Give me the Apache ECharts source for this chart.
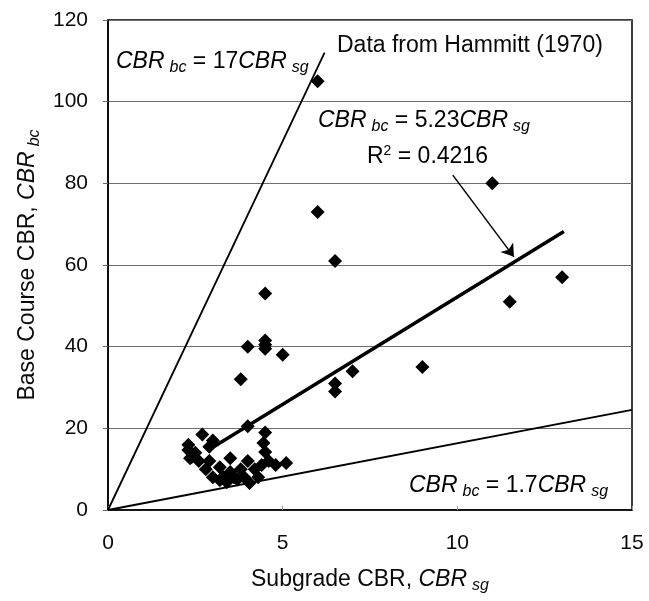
<!DOCTYPE html>
<html>
<head>
<meta charset="utf-8">
<script src="https://cdn.jsdelivr.net/npm/echarts@6/dist/echarts.min.js"></script>
<style>
  html, body { margin: 0; padding: 0; background: #fff; }
  #chart { width: 649px; height: 601px; }
</style>
</head>
<body>
<div id="chart"></div>
<script>
// Hammitt (1970): subgrade CBR vs base course CBR
var subgradeCBR = [6, 11, 6, 6.5, 13, 4.5, 11.5, 4, 4.5, 4.5, 4.5, 5, 3.8, 9, 7, 6.5, 6.5,
  2.3, 2.7, 2.3, 2.35, 2.6, 2.8, 3.0, 3.2, 3.5, 3.6, 3.8, 4.0, 4.05, 4.0, 4.5, 4.45, 4.5,
  4.6, 4.8, 5.1, 2.9, 3.2, 3.5, 2.5, 2.4, 3.0, 3.3, 3.4, 3.7, 4.2, 4.3, 3.9, 4.4, 2.9];
var baseCourseCBR = [105, 80, 73, 61, 57, 53, 51, 40, 41.5, 39.5, 40.5, 38, 32, 35, 34, 31, 29,
  16, 18.5, 14.7, 12.7, 12, 10, 8, 7.3, 12.7, 8, 10, 12, 6.6, 20.5, 19, 16.4, 14.2,
  12, 11, 11.5, 15.5, 10.5, 9.3, 14, 13, 17, 8, 6.8, 7.5, 10, 8, 8, 11, 12];

var xTicks = [0, 15, 5];      // min, max, interval
var yTicks = [0, 120, 20];

// trend lines as drawn in the figure
var fitLine = [[3.05, 15.6], [13.05, 68.2]];  // 5.23 CBRsg
var upperLine = [[0, 0], [6.2, 112]];         // 17 CBRsg
var lowerLine = [[0, 0], [15, 24.5]];         // 1.7 CBRsg
var arrowFrom = [9.87, 82];
var arrowTo = [11.62, 62];

var points = subgradeCBR.map(function (x, i) { return [x, baseCourseCBR[i]]; });

var FONT = 'Liberation Sans';
var INK = '#0a0a0a';
function eqRich(size) {
  var sub = Math.round(size * 0.7);
  return {
    i: { fontFamily: FONT, fontSize: size, fontStyle: 'italic', color: INK },
    n: { fontFamily: FONT, fontSize: size, color: INK },
    s: { fontFamily: FONT, fontSize: sub, fontStyle: 'italic', color: INK, padding: [12, 0, 0, 5] },
    p: { fontFamily: FONT, fontSize: Math.round(size * 0.6), color: INK, padding: [0, 0, 12, 0] }
  };
}

var chart = echarts.init(document.getElementById('chart'));
var option = {
  backgroundColor: '#fff',
  animation: false,
  grid: { left: 108, right: 17, top: 20, bottom: 91, show: true, borderColor: '#000', borderWidth: 1.5, outerBoundsMode: 'none' },
  xAxis: {
    type: 'value', min: xTicks[0], max: xTicks[1], interval: xTicks[2],
    name: '{n|Subgrade CBR, }{i|CBR}{s|sg}',
    nameLocation: 'middle', nameGap: 56,
    nameTextStyle: { rich: eqRich(23) },
    axisLine: { lineStyle: { color: '#000', width: 1.5 } },
    axisTick: { inside: true, length: 4, lineStyle: { color: '#999' } },
    axisLabel: { fontFamily: FONT, fontSize: 21, color: INK, margin: 23 },
    splitLine: { show: false }
  },
  yAxis: {
    type: 'value', min: yTicks[0], max: yTicks[1], interval: yTicks[2],
    name: '{n|Base Course CBR, }{i|CBR}{s|bc}',
    nameLocation: 'middle', nameGap: 64, nameRotate: 90,
    nameTextStyle: { rich: eqRich(23) },
    axisLine: { lineStyle: { color: '#000', width: 1.5 } },
    axisTick: { length: 5, lineStyle: { color: '#666' } },
    axisLabel: { fontFamily: FONT, fontSize: 21, color: INK, margin: 20 },
    splitLine: { lineStyle: { color: '#6e6e6e', width: 1 } }
  },
  series: [
    {
      type: 'line', data: upperLine, showSymbol: false, silent: true,
      lineStyle: { color: '#000', width: 1.8 }
    },
    {
      type: 'line', data: lowerLine, showSymbol: false, silent: true,
      lineStyle: { color: '#000', width: 1.8 }
    },
    {
      type: 'scatter', data: points, symbol: 'diamond', symbolSize: 14,
      itemStyle: { color: '#000', opacity: 1 }
    },
    {
      type: 'line', data: fitLine, showSymbol: false, silent: true,
      lineStyle: { color: '#000', width: 3.5 },
      markLine: {
        silent: true, symbol: ['none', 'arrow'], symbolSize: 12,
        label: { show: false },
        lineStyle: { color: '#000', width: 1.5, type: 'solid' },
        data: [[{ coord: arrowFrom }, { coord: arrowTo }]]
      }
    }
  ],
  graphic: [
    { type: 'text', left: 116, top: 50, style: { text: '{i|CBR}{s|bc}{n| = 17}{i|CBR}{s|sg}', rich: eqRich(23) } },
    { type: 'text', left: 337, top: 34, style: { text: 'Data from Hammitt (1970)', font: '23px ' + FONT, fill: INK } },
    { type: 'text', left: 318, top: 109, style: { text: '{i|CBR}{s|bc}{n| = 5.23}{i|CBR}{s|sg}', rich: eqRich(23) } },
    { type: 'text', left: 367, top: 144, style: { text: '{n|R}{p|2}{n| = 0.4216}', rich: eqRich(23) } },
    { type: 'text', left: 409, top: 474, style: { text: '{i|CBR}{s|bc}{n| = 1.7}{i|CBR}{s|sg}', rich: eqRich(23) } }
  ]
};
chart.setOption(option);
</script>
</body>
</html>
